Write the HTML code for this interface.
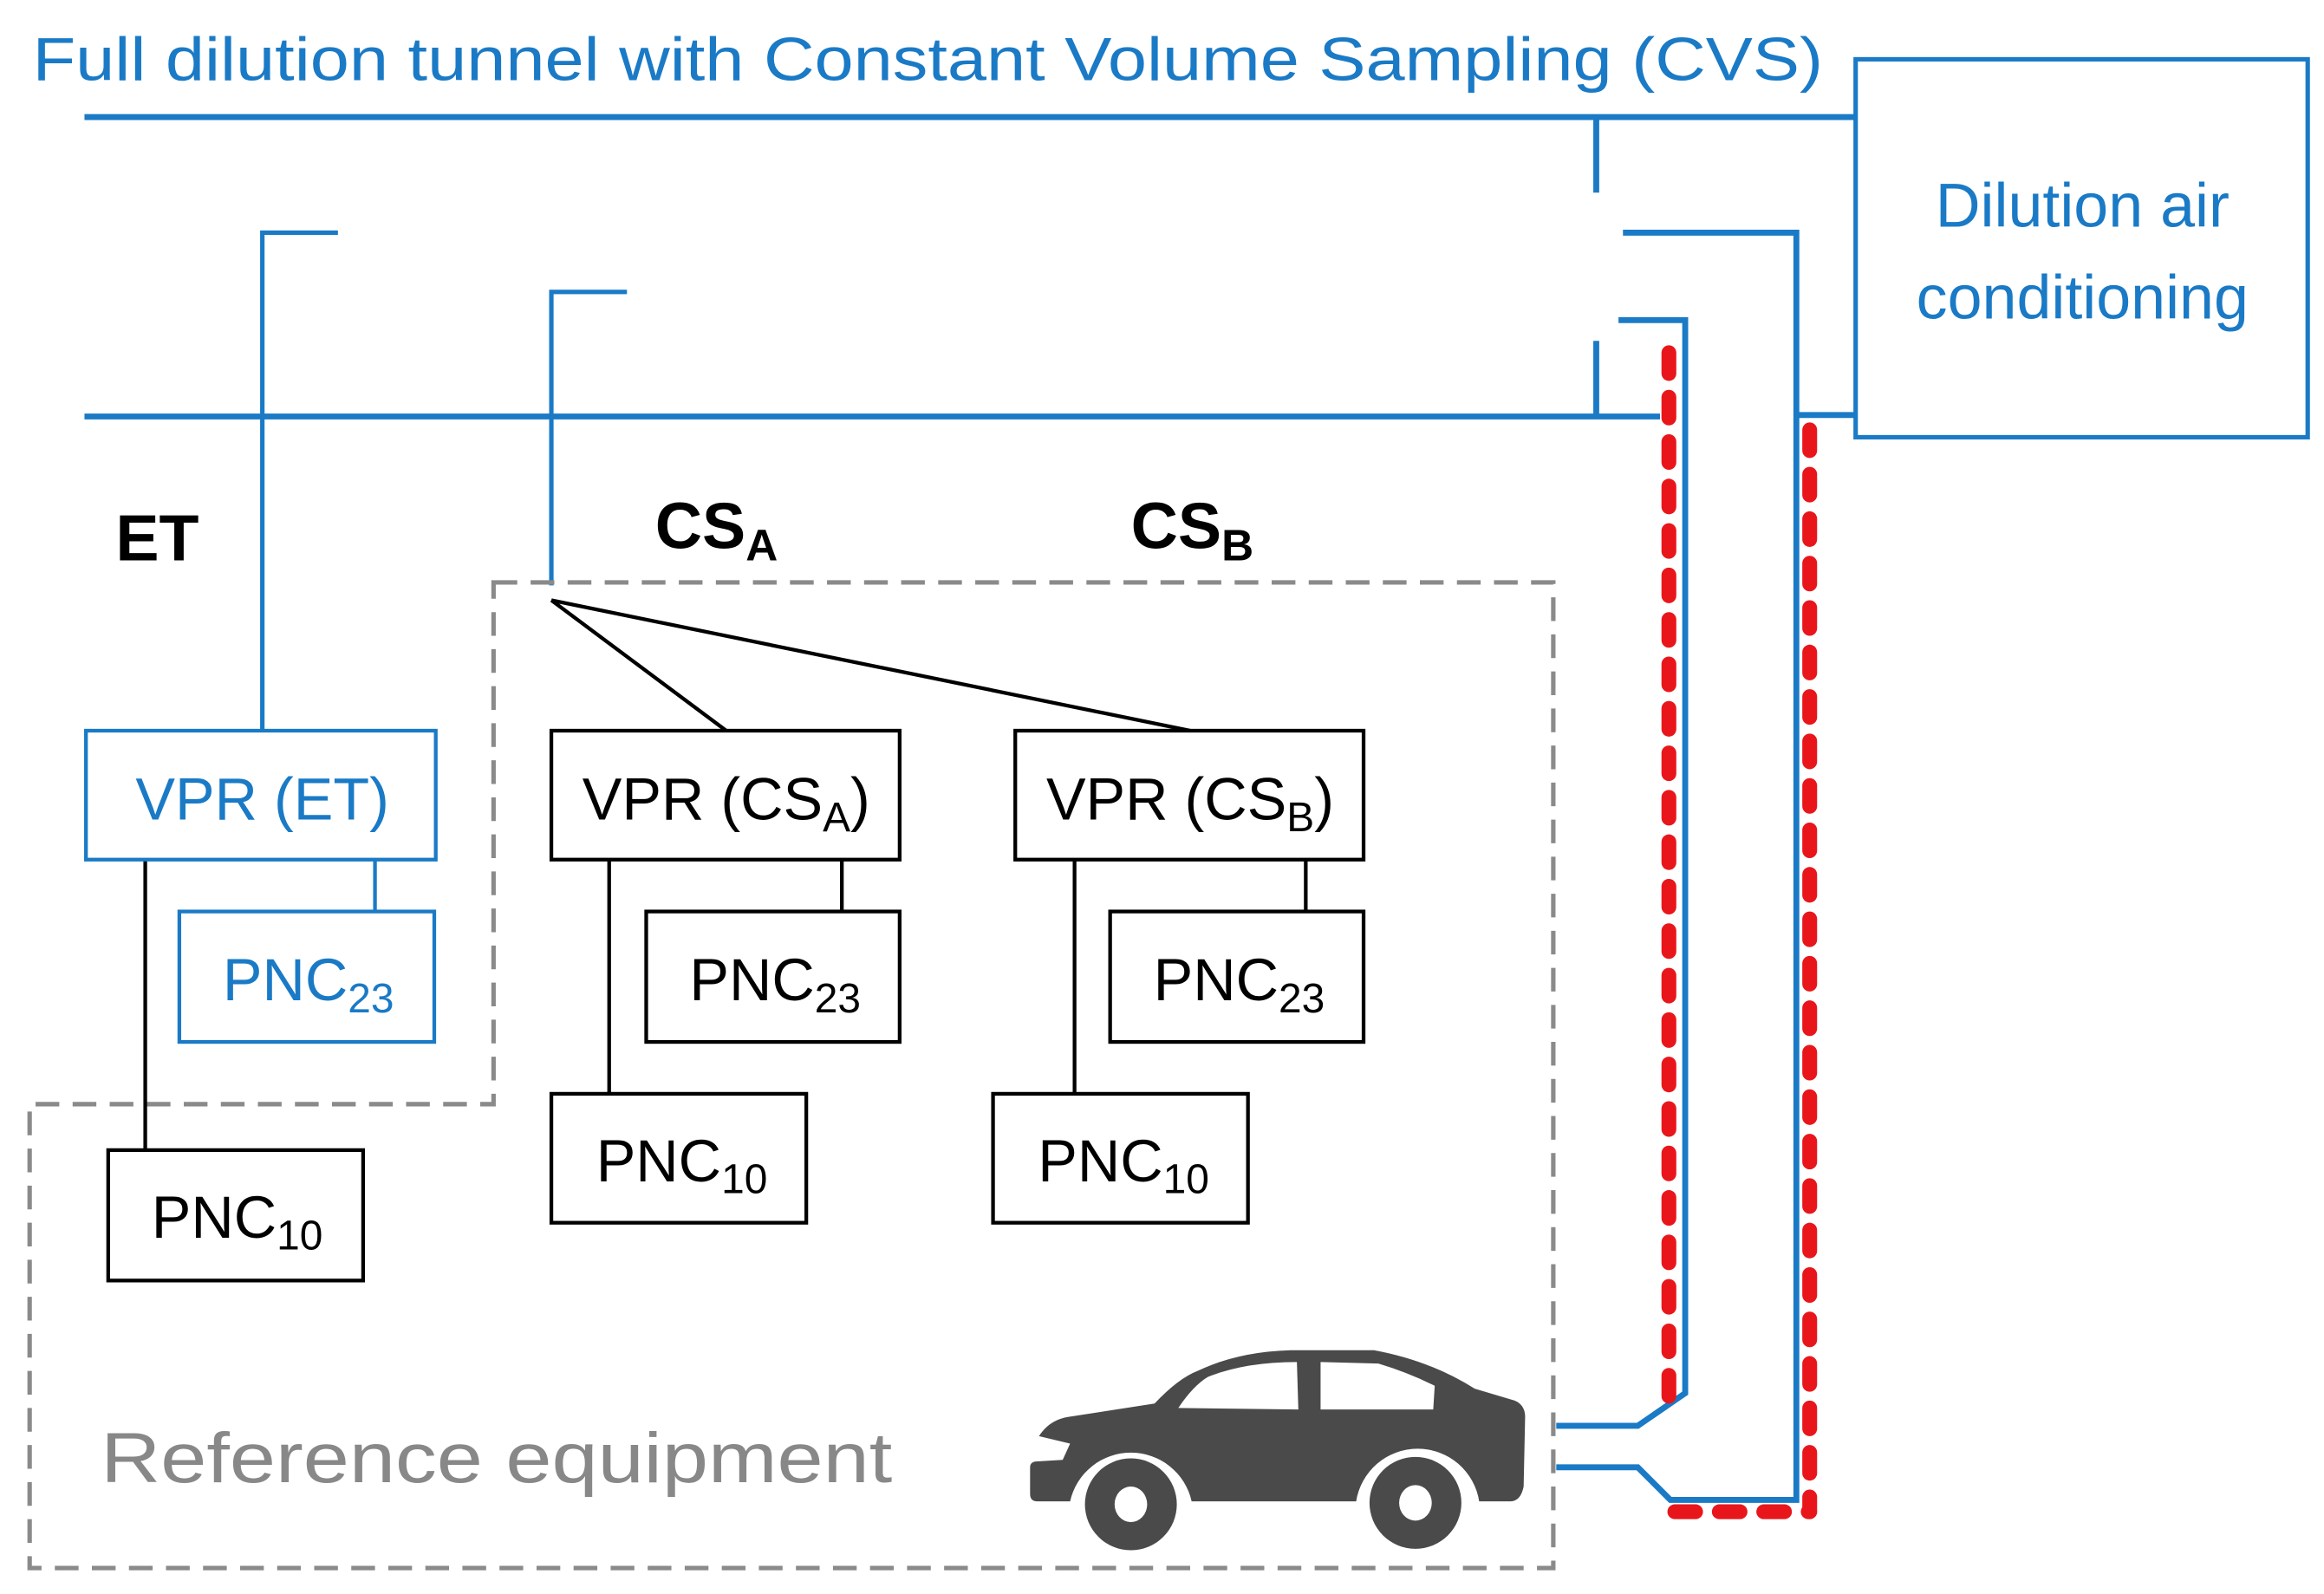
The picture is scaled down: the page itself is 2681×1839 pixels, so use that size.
<!DOCTYPE html>
<html><head><meta charset="utf-8"><style>
html,body{margin:0;padding:0;background:#fff}
svg{display:block}
text{font-family:"Liberation Sans",sans-serif}
</style></head><body>
<svg width="2681" height="1839" viewBox="0 0 1568 1075.5" preserveAspectRatio="none" xmlns="http://www.w3.org/2000/svg">
<g fill="#1a7ac6" font-size="41">
<text x="22" y="54" textLength="1208" lengthAdjust="spacingAndGlyphs">Full dilution tunnel with Constant Volume Sampling (CVS)</text>
</g>
<g stroke="#1a7ac6" stroke-width="4" fill="none">
<line x1="57" y1="79" x2="1252" y2="79"/>
<line x1="57" y1="281" x2="1120" y2="281"/>
<line x1="1077" y1="79" x2="1077" y2="130"/>
<line x1="1077" y1="230" x2="1077" y2="281"/>
<polyline points="1095,157 1212,157 1212,1012 1127,1012 1105,990 1050,990"/>
<line x1="1212" y1="280" x2="1252" y2="280"/>
<polyline points="1092,216 1137,216 1137,940 1105,962 1050,962"/>
</g>
<g stroke="#1a7ac6" stroke-width="3" fill="none">
<rect x="1252" y="40" width="305" height="255"/>
<polyline points="228,157 177,157 177,493"/>
<polyline points="423,197 372,197 372,395"/>
</g>
<g fill="#1a7ac6" font-size="42" text-anchor="middle">
<text x="1405" y="153">Dilution air</text>
<text x="1405" y="215">conditioning</text>
</g>
<g stroke="#e8161b" stroke-width="10" stroke-dasharray="14,16" stroke-linecap="round" fill="none">
<line x1="1126" y1="238" x2="1126" y2="945"/>
<line x1="1221" y1="290" x2="1221" y2="1020"/>
<line x1="1130" y1="1020" x2="1221" y2="1020"/>
</g>
<polygon points="333,393 1048,393 1048,1058 20,1058 20,745 333,745" fill="none" stroke="#8a8a8a" stroke-width="3" stroke-dasharray="16,9"/>
<g font-weight="bold" font-size="44" fill="#000">
<text x="78" y="378">ET</text>
<text x="442" y="370">CS<tspan font-size="30" dy="8">A</tspan></text>
<text x="763" y="370">CS<tspan font-size="30" dy="8">B</tspan></text>
</g>
<g stroke="#000" stroke-width="2.5" fill="none">
<line x1="372" y1="405" x2="490" y2="493"/>
<line x1="372" y1="405" x2="803" y2="493"/>
<line x1="98" y1="580" x2="98" y2="776"/>
<rect x="73" y="776" width="172" height="88"/>
<rect x="372" y="493" width="235" height="87"/>
<rect x="436" y="615" width="171" height="88"/>
<line x1="568" y1="580" x2="568" y2="615"/>
<line x1="411" y1="580" x2="411" y2="738"/>
<rect x="372" y="738" width="172" height="87"/>
<rect x="685" y="493" width="235" height="87"/>
<rect x="749" y="615" width="171" height="88"/>
<line x1="881" y1="580" x2="881" y2="615"/>
<line x1="725" y1="580" x2="725" y2="738"/>
<rect x="670" y="738" width="172" height="87"/>
</g>
<g stroke="#1a7ac6" stroke-width="2.5" fill="none">
<rect x="58" y="493" width="236" height="87"/>
<rect x="121" y="615" width="172" height="88"/>
<line x1="253" y1="580" x2="253" y2="615"/>
</g>
<g font-size="40" text-anchor="middle">
<text x="177" y="553" fill="#1a7ac6">VPR (ET)</text>
<text x="208" y="675" fill="#1a7ac6">PNC<tspan font-size="28" dy="8">23</tspan></text>
<text x="160" y="835">PNC<tspan font-size="28" dy="8">10</tspan></text>
<text x="490" y="553">VPR (CS<tspan font-size="28" dy="8">A</tspan><tspan dy="-8">)</tspan></text>
<text x="523" y="675">PNC<tspan font-size="28" dy="8">23</tspan></text>
<text x="460" y="797">PNC<tspan font-size="28" dy="8">10</tspan></text>
<text x="803" y="553">VPR (CS<tspan font-size="28" dy="8">B</tspan><tspan dy="-8">)</tspan></text>
<text x="836" y="675">PNC<tspan font-size="28" dy="8">23</tspan></text>
<text x="758" y="797">PNC<tspan font-size="28" dy="8">10</tspan></text>
</g>
<text x="68" y="1000" font-size="48" fill="#888" textLength="534" lengthAdjust="spacingAndGlyphs">Reference equipment</text>
<g fill="#4a4a4b">
<path d="M695,1008 L695,990 Q695,986 700,986 L717,985 L722,974 L701,969 Q708,958 721,956 L779,947 Q795,930 808,925 Q835,912 871,911 L927,911 Q965,918 995,937 L1022,945 Q1029,948 1029,956 L1028,1003 Q1026,1013 1019,1013 L998,1013 A42,42 0 0 0 915,1013 L804,1013 A42,42 0 0 0 722,1013 L700,1013 Q695,1013 695,1008 Z"/>
<circle cx="763" cy="1015" r="31"/>
<circle cx="955" cy="1014" r="31"/>
</g>
<g fill="#fff">
<path d="M795,950 Q805,935 815,929 Q840,919 875,919 L876,951 Z"/>
<path d="M891,919 L930,920 Q950,926 968,935 L967,951 L891,951 Z"/>
<ellipse cx="763" cy="1015" rx="11" ry="12"/>
<ellipse cx="955" cy="1014" rx="11" ry="12"/>
</g>
</svg>
</body></html>
